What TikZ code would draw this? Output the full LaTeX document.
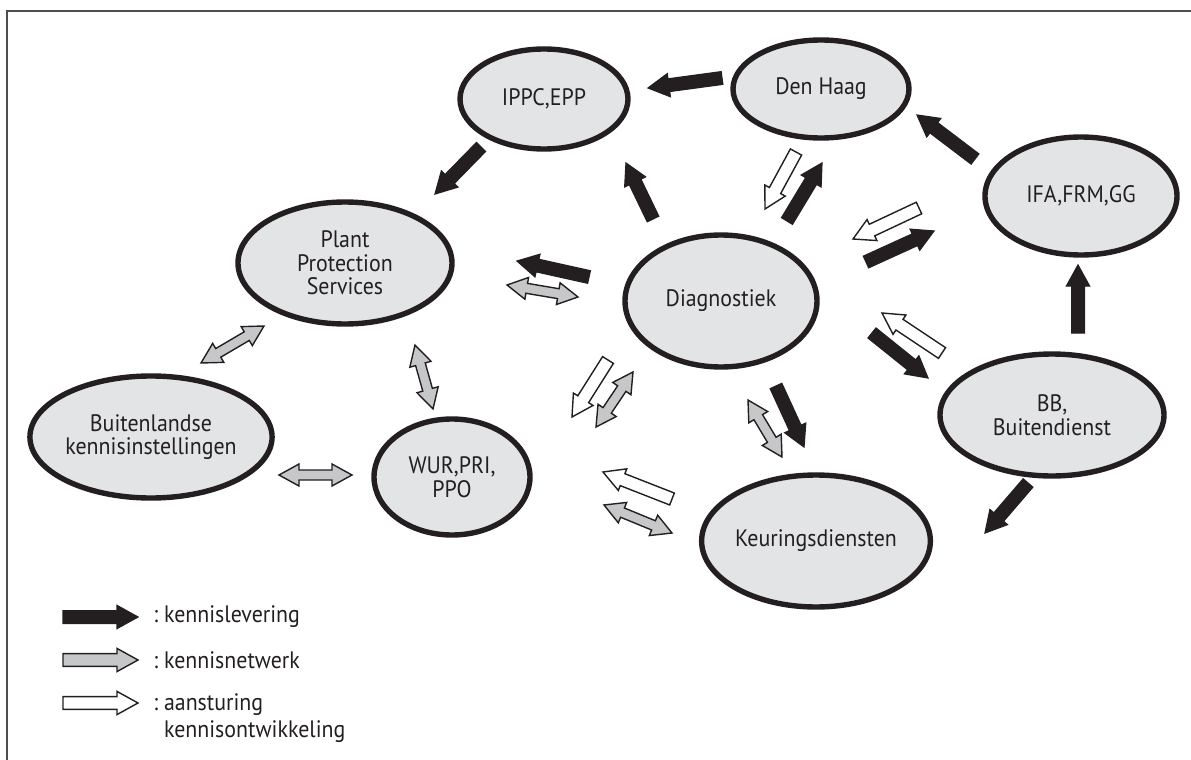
\documentclass[tikz,border=0pt]{standalone}
\usepackage{fontspec}
\setmainfont{PT Sans}[FakeStretch=0.92]
\usetikzlibrary{calc,shapes.geometric}
\definecolor{kdink}{HTML}{231F20}
\definecolor{kdovaal}{HTML}{E3E4E6}
\definecolor{kdnet}{HTML}{C6C7C9}
\definecolor{kdkader}{HTML}{4D4D4D}
\tikzset{
  every picture/.style={font={\fontsize{11.9}{11.8}\selectfont},text=kdink},
  instelling/.style={ellipse,draw=kdink,fill=kdovaal,line width=2.7pt,
    inner sep=0pt,align=center},
  levering/.style={draw=kdink,fill=kdink,line width=0.6pt},
  netwerk/.style={draw=kdink,fill=kdnet,line width=0.7pt},
  sturing/.style={draw=kdink,fill=white,line width=0.7pt},
  legenda/.style={anchor=west,align=left,inner sep=0pt},
}
% block arrow from #2 (tail) to #3 (tip)
\newcommand{\enkelpijl}[3][levering]{%
  \coordinate (kop) at ($(#3)!10.5pt!(#2)$);
  \path[#1] ($(#2)!3.2pt!90:(#3)$) -- ($(kop)!3.2pt!90:(#3)$)
    -- ($(kop)!5.8pt!90:(#3)$) -- (#3) -- ($(kop)!5.8pt!-90:(#3)$)
    -- ($(kop)!3.2pt!-90:(#3)$) -- ($(#2)!3.2pt!-90:(#3)$) -- cycle;}
% block arrow with a head at both ends
\newcommand{\dubbelpijl}[3][netwerk]{%
  \coordinate (kopa) at ($(#2)!10pt!(#3)$);
  \coordinate (kopb) at ($(#3)!10pt!(#2)$);
  \path[#1] (#2) -- ($(kopa)!5.5pt!90:(#3)$) -- ($(kopa)!2.5pt!90:(#3)$)
    -- ($(kopb)!2.5pt!90:(#3)$) -- ($(kopb)!5.5pt!90:(#3)$) -- (#3)
    -- ($(kopb)!5.5pt!-90:(#3)$) -- ($(kopb)!2.5pt!-90:(#3)$)
    -- ($(kopa)!2.5pt!-90:(#3)$) -- ($(kopa)!5.5pt!-90:(#3)$) -- cycle;}

\begin{document}
\begin{tikzpicture}[x=0.5pt,y=-0.5pt]
  \useasboundingbox (0,0) rectangle (1191,760);
  \draw[kdkader,line width=1pt] (7,760) -- (7,11) -- (1191,11);

  % organisations
  \node[instelling,minimum width=84pt,minimum height=50pt] (ippc) at (544,99) {IPPC,EPP};
  \node[instelling,minimum width=88pt,minimum height=49pt] (haag) at (821,89) {Den Haag};
  \node[instelling,minimum width=107pt,minimum height=61pt] (pps) at (345,263) {Plant\\Protection\\Services};
  \node[instelling,minimum width=96pt,minimum height=66pt] (diag) at (721,301) {Diagnostiek};
  \node[instelling,minimum width=96pt,minimum height=59pt] (ifa) at (1081,196) {IFA,FRM,GG};
  \node[instelling,minimum width=112pt,minimum height=61pt] (bb) at (1052,415) {BB,\\Buitendienst};
  \node[instelling,minimum width=114pt,minimum height=66pt] (keur) at (816,541) {Keuringsdiensten};
  \node[instelling,minimum width=78pt,minimum height=58pt] (wur) at (452,477) {WUR,PRI,\\PPO};
  \node[instelling,minimum width=120pt,minimum height=61pt] (buit) at (151,437) {Buitenlandse\\kennisinstellingen};

  % kennislevering
  \foreach \nm/\xa/\ya/\xb/\yb in {haag-ippc/722/78/648/88, ippc-pps/481/147/435/194,
      diag-ippc/653/219/626/163, diag-haag/787/221/822/163, ifa-haag/975/159/917/115,
      bb-ifa/1078/333/1078/265, diag-ifa/866/262/934/231, diag-bb/872/333/928/378,
      diag-pps/589/277/517/261, diag-keur/776/386/804/447, bb-keur/1028/483/985/533} {
    \coordinate (\nm-a) at (\xa,\ya);
    \coordinate (\nm-b) at (\xb,\yb);
    \enkelpijl[levering]{\nm-a}{\nm-b}
  }
  % aansturing kennisontwikkeling
  \foreach \nm/\xa/\ya/\xb/\yb in {haag-diag/796/152/765/209, ifa-diag/919/208/853/239,
      bb-diag/942/353/882/313, diag-wur/608/360/572/417, keur-wur/672/499/603/472} {
    \coordinate (\nm-a) at (\xa,\ya);
    \coordinate (\nm-b) at (\xb,\yb);
    \enkelpijl[sturing]{\nm-a}{\nm-b}
  }
  % kennisnetwerk
  \foreach \nm/\xa/\ya/\xb/\yb in {pps-diag/507/285/578/297, diag-keur/748/400/782/457,
      diag-wur/596/427/633/372, keur-wur/604/505/672/533, pps-buit/201/363/264/326,
      pps-wur/415/345/433/409, buit-wur/279/475/352/475} {
    \coordinate (\nm-a) at (\xa,\ya);
    \coordinate (\nm-b) at (\xb,\yb);
    \dubbelpijl[netwerk]{\nm-a}{\nm-b}
  }

  % legend
  \foreach \i/\stijl/\y in {1/levering/617, 2/netwerk/660, 3/sturing/703} {
    \coordinate (leg\i-a) at (63,\y);
    \coordinate (leg\i-b) at (138,\y);
    \enkelpijl[\stijl]{leg\i-a}{leg\i-b}
  }
  \node[legenda] (txt1) at (153,617) {:~kennislevering};
  \node[legenda] (txt2) at (153,660) {:~kennisnetwerk};
  \node[legenda,anchor=north west] (txt3) at (153,693) {:~aansturing\\[1.6pt]\phantom{:~}kennisontwikkeling};
\end{tikzpicture}
\end{document}
